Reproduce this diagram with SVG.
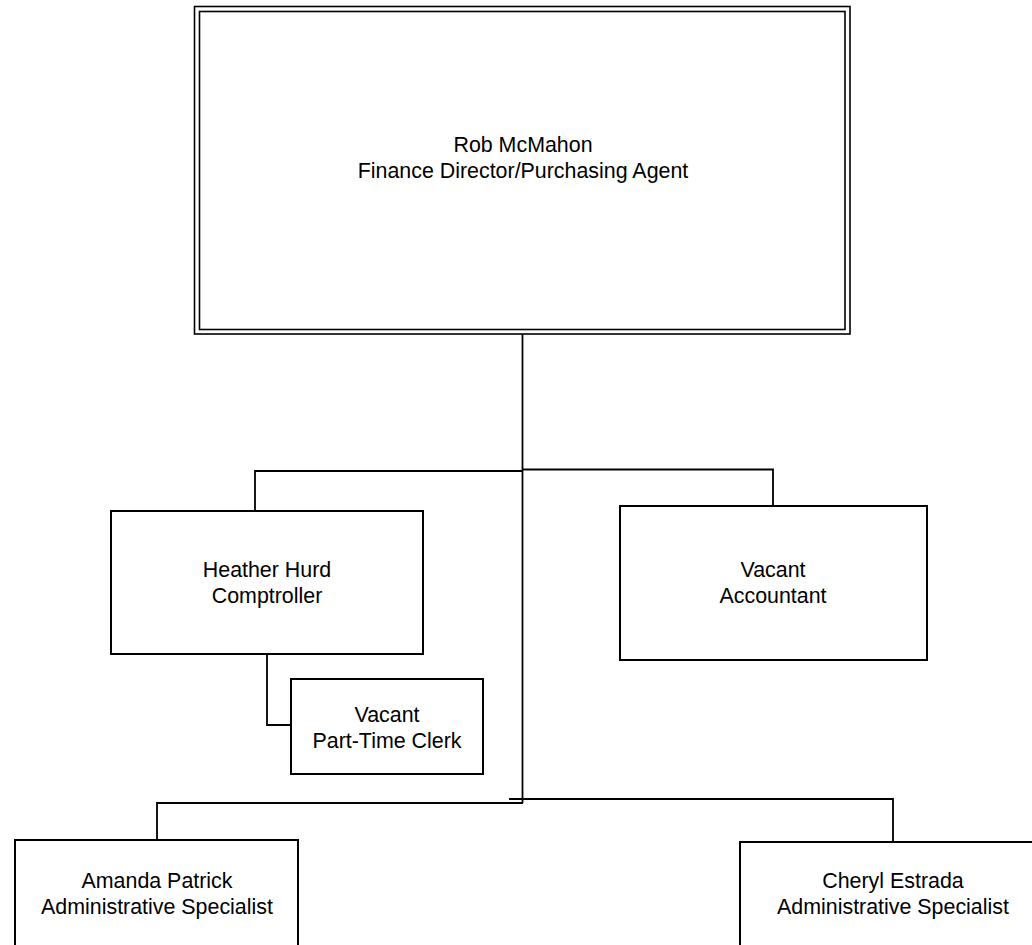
<svg xmlns="http://www.w3.org/2000/svg" width="1032" height="945" viewBox="0 0 1032 945">
<style>
.box{fill:#fff;stroke:#000;stroke-width:2}
.dbl{fill:none;stroke:#000;stroke-width:1.6}
.ln{fill:none;stroke:#000;stroke-width:1.8}
text{font-family:"Liberation Sans",Arial,sans-serif;font-size:21.4px;fill:#000;text-anchor:middle}
</style>
<rect width="1032" height="945" fill="#fff"/>
<g id="connectors">
<polyline class="ln" points="522.5,334 522.5,803"/>
<polyline class="ln" points="255,511 255,471 522.5,471"/>
<polyline class="ln" points="522.5,469.5 773,469.5 773,506"/>
<polyline class="ln" points="267,654 267,725 291,725"/>
<polyline class="ln" points="157,840 157,803 523,803"/>
<polyline class="ln" points="509,799 893,799 893,842"/>
</g>
<g id="rob">
<rect class="dbl" x="194.5" y="6.5" width="655.5" height="327.5"/>
<rect class="dbl" x="199.5" y="11.5" width="645.5" height="318"/>
<text x="523" y="152">Rob McMahon</text>
<text x="523" y="178">Finance Director/Purchasing Agent</text>
</g>
<g id="heather">
<rect class="box" x="111" y="511" width="312" height="143"/>
<text x="267" y="577">Heather Hurd</text>
<text x="267" y="603">Comptroller</text>
</g>
<g id="accountant">
<rect class="box" x="620" y="506" width="307" height="154"/>
<text x="773" y="577">Vacant</text>
<text x="773" y="603">Accountant</text>
</g>
<g id="clerk">
<rect class="box" x="291" y="679" width="192" height="95"/>
<text x="387" y="722">Vacant</text>
<text x="387" y="748">Part-Time Clerk</text>
</g>
<g id="amanda">
<rect class="box" x="15" y="840" width="283" height="120"/>
<text x="157" y="888">Amanda Patrick</text>
<text x="157" y="914">Administrative Specialist</text>
</g>
<g id="cheryl">
<rect class="box" x="740" y="842" width="306" height="120"/>
<text x="893" y="888">Cheryl Estrada</text>
<text x="893" y="914">Administrative Specialist</text>
</g>
</svg>
